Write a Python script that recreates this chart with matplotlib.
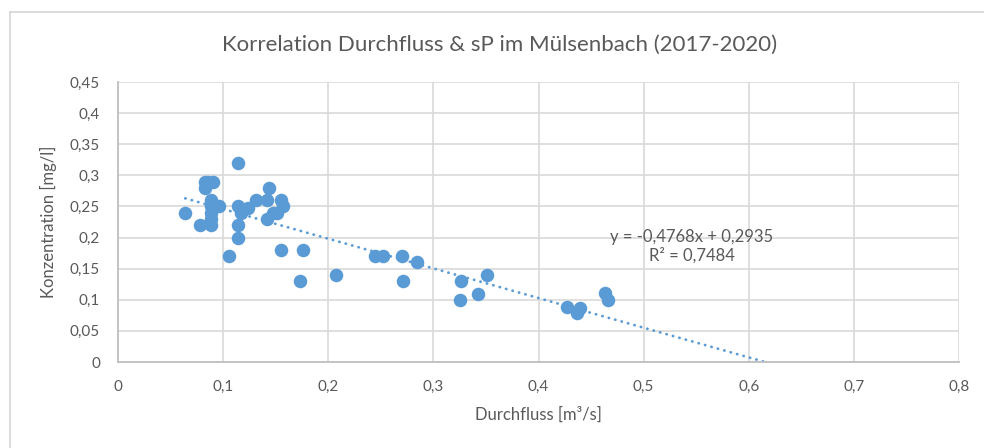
import numpy as np
import matplotlib
matplotlib.use("Agg")
import matplotlib.pyplot as plt
from matplotlib.lines import Line2D
from matplotlib.ticker import FuncFormatter

# Durchfluss [m3/s] and Konzentration [mg/l]
durchfluss = [0.064, 0.078, 0.083, 0.086, 0.090, 0.083, 0.088, 0.088, 0.088, 0.088,
              0.088, 0.096, 0.106, 0.114, 0.114, 0.114, 0.114, 0.117, 0.124, 0.131,
              0.142, 0.1435, 0.142, 0.147, 0.151, 0.1546, 0.157, 0.1546, 0.176, 0.173,
              0.207, 0.244, 0.252, 0.270, 0.284, 0.271, 0.326, 0.325, 0.342, 0.351,
              0.427, 0.4396, 0.4364, 0.463, 0.466]
konzentration = [0.24, 0.22, 0.29, 0.29, 0.29, 0.28, 0.26, 0.25, 0.24, 0.23,
                 0.22, 0.25, 0.17, 0.32, 0.25, 0.22, 0.20, 0.24, 0.248, 0.26,
                 0.26, 0.28, 0.23, 0.24, 0.24, 0.26, 0.25, 0.18, 0.18, 0.13,
                 0.14, 0.17, 0.17, 0.17, 0.16, 0.13, 0.13, 0.10, 0.11, 0.14,
                 0.088, 0.086, 0.078, 0.111, 0.10]

slope = -0.4768
intercept = 0.2935

blue = '#5B9BD5'
grey_text = '#595959'
grid_col = '#D9D9D9'

plt.rcParams['font.family'] = ['Lato', 'DejaVu Sans']

fig = plt.figure(figsize=(9.84, 4.48), dpi=100)
ax = fig.add_axes([118 / 984, 1 - 362 / 448, (959 - 118) / 984, (362 - 82) / 448])

ax.scatter(durchfluss, konzentration, s=95, color=blue, zorder=3, linewidths=0)

# linear trend line (Excel style), from min x until it crosses zero
tx = np.array([min(durchfluss), -intercept / slope])
ax.plot(tx, slope * tx + intercept, color=blue, linestyle=(0, (0.1, 2.3)),
        linewidth=2, dash_capstyle='round', zorder=2)

ax.text(0.546, 0.186, 'y = -0,4768x + 0,2935\nR² = 0,7484', ha='center',
        va='center', fontsize=12, color=grey_text, linespacing=1.2, zorder=4)

ax.set_xlim(0, 0.8)
ax.set_ylim(0, 0.45)
ax.set_xticks(np.arange(0, 0.81, 0.1))
ax.set_yticks(np.arange(0, 0.451, 0.05))

def komma(v, pos):
    s = ('%.2f' % v).rstrip('0').rstrip('.')
    return s.replace('.', ',')

ax.xaxis.set_major_formatter(FuncFormatter(komma))
ax.yaxis.set_major_formatter(FuncFormatter(komma))
ax.tick_params(length=0, labelsize=11, labelcolor=grey_text)
ax.tick_params(axis='y', pad=13)
ax.tick_params(axis='x', pad=13)

ax.grid(True, color=grid_col, linewidth=1.2)
ax.set_axisbelow(True)
for side in ['top', 'right']:
    ax.spines[side].set_visible(False)
for side in ['left', 'bottom']:
    ax.spines[side].set_color('#BFBFBF')
    ax.spines[side].set_linewidth(1.3)

ax.set_xlabel('Durchfluss [m³/s]', fontsize=12, color=grey_text, labelpad=9)
ax.set_ylabel('Konzentration [mg/l]', fontsize=12, color=grey_text, labelpad=9)

fig.text(500 / 984, 1 - 45 / 448, 'Korrelation Durchfluss & sP im Mülsenbach (2017-2020)',
         ha='center', va='center', fontsize=16, color=grey_text)

# chart area border
fig.add_artist(Line2D([10 / 984, 10 / 984], [0, 1 - 12 / 448], color='#D9D9D9', lw=1.3))
fig.add_artist(Line2D([10 / 984, 1], [1 - 12 / 448, 1 - 12 / 448], color='#D9D9D9', lw=1.3))

fig.savefig('out.png', dpi=100)
